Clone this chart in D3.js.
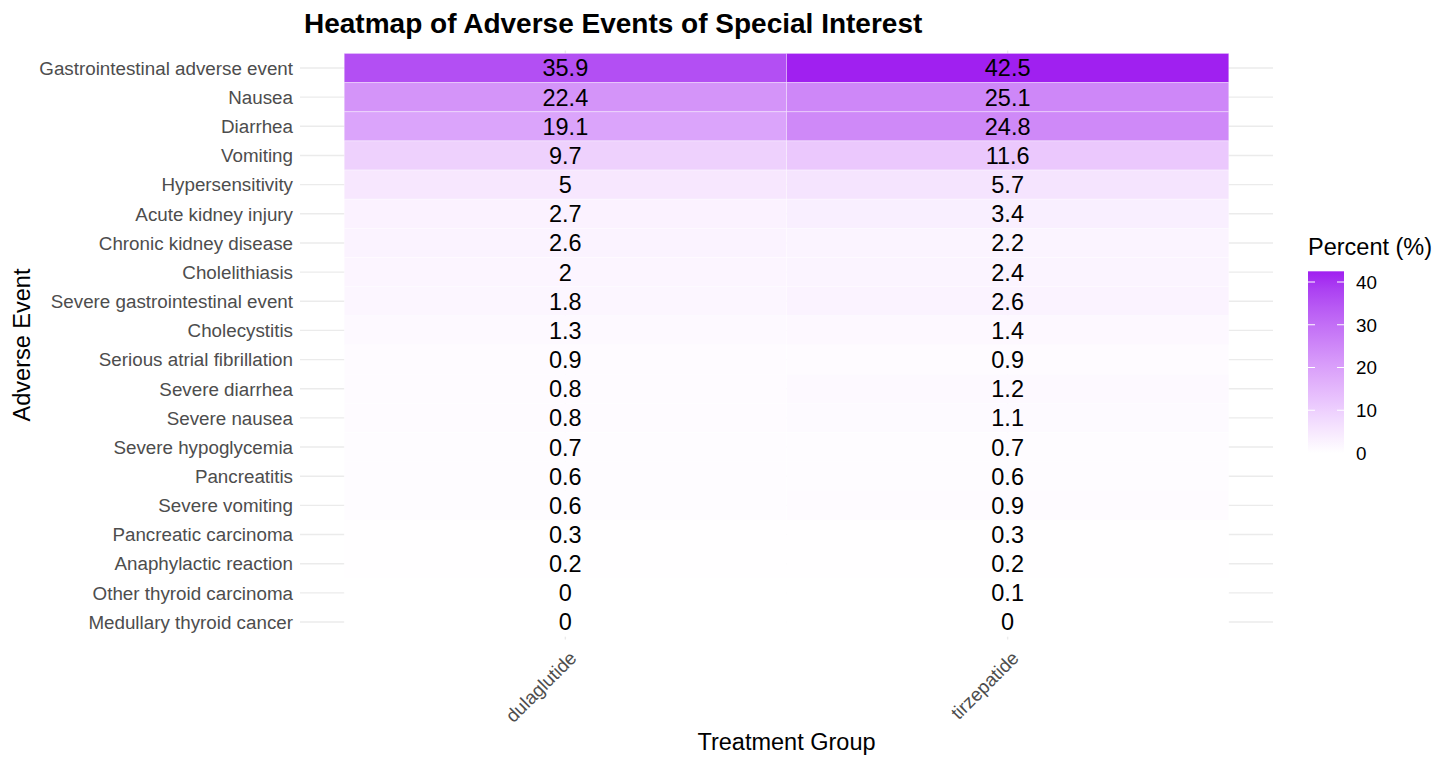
<!DOCTYPE html>
<html>
<head>
<meta charset="utf-8">
<script src="https://cdn.jsdelivr.net/npm/d3@7"></script>
<style>
  body { margin: 0; background: #fff; }
  text { font-family: "Liberation Sans", Arial, sans-serif; }
</style>
</head>
<body>
<svg id="heat" width="1456" height="766"></svg>
<script>
// data
let events = ["Gastrointestinal adverse event", "Nausea", "Diarrhea", "Vomiting", "Hypersensitivity",
    "Acute kidney injury", "Chronic kidney disease", "Cholelithiasis", "Severe gastrointestinal event",
    "Cholecystitis", "Serious atrial fibrillation", "Severe diarrhea", "Severe nausea",
    "Severe hypoglycemia", "Pancreatitis", "Severe vomiting", "Pancreatic carcinoma",
    "Anaphylactic reaction", "Other thyroid carcinoma", "Medullary thyroid cancer"];
let groups = ["dulaglutide", "tirzepatide"];
let dulaglutide = [35.9, 22.4, 19.1, 9.7, 5, 2.7, 2.6, 2, 1.8, 1.3, 0.9, 0.8, 0.8, 0.7, 0.6, 0.6, 0.3, 0.2, 0, 0];
let tirzepatide = [42.5, 25.1, 24.8, 11.6, 5.7, 3.4, 2.2, 2.4, 2.6, 1.4, 0.9, 1.2, 1.1, 0.7, 0.6, 0.9, 0.3, 0.2, 0.1, 0];
let legendTicks = [0, 10, 20, 30, 40];

let cells = [];
events.forEach((e, i) => {
    cells.push({ event: e, group: "dulaglutide", value: dulaglutide[i] });
    cells.push({ event: e, group: "tirzepatide", value: tirzepatide[i] });
});

let svg = d3.select("#heat");
let pLeft = 300, pRight = 1273, pTop = 50.5, pBottom = 639.5;

// discrete scales, ggplot-like expansion (0.6 around category centres)
let xScale = d3.scaleBand().domain(groups).range([pLeft, pRight]).paddingInner(0).paddingOuter(0.1);
let yScale = d3.scaleBand().domain(events).range([pTop, pBottom]).paddingInner(0).paddingOuter(0.1);

let maxVal = d3.max(cells, d => d.value);
let color = d3.scaleLinear().domain([0, maxVal]).range(["#ffffff", "#a020f0"]).interpolate(d3.interpolateLab);

// grid lines
svg.append("g").selectAll("line")
    .data(events).enter().append("line")
    .attr("x1", pLeft).attr("x2", pRight)
    .attr("y1", d => yScale(d) + yScale.bandwidth() / 2)
    .attr("y2", d => yScale(d) + yScale.bandwidth() / 2)
    .attr("stroke", "#ebebeb").attr("stroke-width", 1.4);

svg.append("g").selectAll("line")
    .data(groups).enter().append("line")
    .attr("y1", pTop).attr("y2", pBottom)
    .attr("x1", d => xScale(d) + xScale.bandwidth() / 2)
    .attr("x2", d => xScale(d) + xScale.bandwidth() / 2)
    .attr("stroke", "#ebebeb").attr("stroke-width", 1.4);

// tiles
svg.append("g").selectAll("rect")
    .data(cells).enter().append("rect")
    .attr("x", d => xScale(d.group))
    .attr("y", d => yScale(d.event))
    .attr("width", xScale.bandwidth())
    .attr("height", yScale.bandwidth())
    .attr("fill", d => color(d.value))
    .attr("stroke", "#ffffff")
    .attr("stroke-opacity", 0.35)
    .attr("stroke-width", 1);

// cell labels
svg.append("g").selectAll("text")
    .data(cells).enter().append("text")
    .attr("x", d => xScale(d.group) + xScale.bandwidth() / 2)
    .attr("y", d => yScale(d.event) + yScale.bandwidth() / 2)
    .attr("dy", "0.36em")
    .attr("text-anchor", "middle")
    .style("font-size", "23.5px")
    .style("fill", "#000")
    .text(d => d.value);

// y axis labels
svg.append("g").selectAll("text")
    .data(events).enter().append("text")
    .attr("x", 293)
    .attr("y", d => yScale(d) + yScale.bandwidth() / 2)
    .attr("dy", "0.36em")
    .attr("text-anchor", "end")
    .style("font-size", "18.8px")
    .style("fill", "#4d4d4d")
    .text(d => d);

// x axis labels
svg.append("g").selectAll("text")
    .data(groups).enter().append("text")
    .attr("transform", d => "translate(" + (xScale(d) + xScale.bandwidth() / 2 + 3) + "," + 650 + ") rotate(-45)")
    .attr("text-anchor", "end")
    .attr("dy", "0.7em")
    .style("font-size", "18.8px")
    .style("fill", "#4d4d4d")
    .text(d => d);

// titles
svg.append("text")
    .attr("x", 304).attr("y", 33)
    .style("font-size", "28px").style("font-weight", "bold")
    .text("Heatmap of Adverse Events of Special Interest");

svg.append("text")
    .attr("x", (pLeft + pRight) / 2).attr("y", 750)
    .attr("text-anchor", "middle")
    .style("font-size", "23.5px")
    .text("Treatment Group");

svg.append("text")
    .attr("transform", "translate(30," + ((pTop + pBottom) / 2) + ") rotate(-90)")
    .attr("text-anchor", "middle")
    .style("font-size", "23.5px")
    .text("Adverse Event");

// legend colorbar
let legY = d3.scaleLinear().domain([0, 40]).range([453, 282]);
let barX = 1308, barW = 36;
let defs = svg.append("defs");
let grad = defs.append("linearGradient").attr("id", "lg")
    .attr("x1", 0).attr("y1", 1).attr("x2", 0).attr("y2", 0);
d3.range(0, 11).forEach(i => {
    grad.append("stop").attr("offset", i / 10).attr("stop-color", color(maxVal * i / 10));
});
svg.append("rect")
    .attr("x", barX).attr("y", legY(maxVal))
    .attr("width", barW).attr("height", legY(0) - legY(maxVal))
    .attr("fill", "url(#lg)");

let lt = svg.append("g").selectAll("g").data(legendTicks).enter().append("g");
lt.append("line")
    .attr("x1", barX).attr("x2", barX + 7)
    .attr("y1", d => legY(d)).attr("y2", d => legY(d))
    .attr("stroke", "#fff").attr("stroke-width", 1);
lt.append("line")
    .attr("x1", barX + barW - 7).attr("x2", barX + barW)
    .attr("y1", d => legY(d)).attr("y2", d => legY(d))
    .attr("stroke", "#fff").attr("stroke-width", 1);
lt.append("text")
    .attr("x", barX + barW + 12)
    .attr("y", d => legY(d))
    .attr("dy", "0.36em")
    .style("font-size", "18.8px")
    .text(d => d);

svg.append("text")
    .attr("x", barX).attr("y", 255)
    .style("font-size", "23.5px")
    .text("Percent (%)");
</script>
</body>
</html>
